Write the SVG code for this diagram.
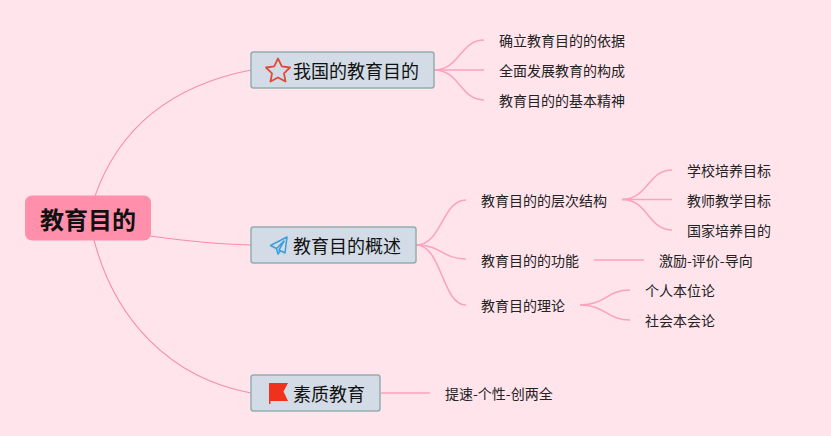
<svg xmlns="http://www.w3.org/2000/svg" width="831" height="436" viewBox="0 0 831 436">
<style>
text{font-family:"Noto Sans CJK SC","Liberation Sans",sans-serif;fill:#111;dominant-baseline:central}
.leaf{font-size:14px;fill:#222}
.main{font-size:18px}
.box{fill:#d3dce6;stroke:#93aeae;stroke-width:1.5}
.c{fill:none;stroke:#fba3bc;stroke-width:1.5}
.r{fill:none;stroke:#f78dab;stroke-width:1.1}
</style>
<rect width="831" height="436" fill="#ffe4ec"/>
<g id="connectors">
<path class="r" d="M95 196C120 125 175 85 251 70"/>
<path class="r" d="M150 236C185 241 215 244 251 245"/>
<path class="r" d="M94 240C115 320 170 378 251 393"/>
<path class="c" d="M434 70C460 70 460 40 484 40"/>
<path class="c" d="M434 70H484"/>
<path class="c" d="M434 70C460 70 460 100 484 100"/>
<path class="c" d="M416 245C442 245 442 200 466 200"/>
<path class="c" d="M416 245C442 245 442 259 466 259"/>
<path class="c" d="M416 245C442 245 442 305 466 305"/>
<path class="c" d="M622 199.500C648 199.500 648 170 672 170"/>
<path class="c" d="M622 199.500H672"/>
<path class="c" d="M622 199.500C648 199.500 648 230 672 230"/>
<path class="c" d="M594 260H644"/>
<path class="c" d="M580 305C606 305 606 290 630 290"/>
<path class="c" d="M580 305C606 305 606 320 630 320"/>
<path class="c" d="M381 393H430"/>
</g>
<g id="root">
<rect x="25" y="195.500" width="126" height="45" rx="7" fill="#ff8fab"/>
<text x="40" y="218" font-size="24" font-weight="700">教育目的</text>
</g>
<g id="n1">
<rect class="box" x="251" y="52" width="183" height="36" rx="2.500"/>
<path d="M278 58.500L281.800 66.300L290 67.500L284 73.300L285.500 81.500L278 77.500L270.500 81.500L272 73.300L266 67.500L274.200 66.300Z" fill="none" stroke="#e04b35" stroke-width="1.800" stroke-linejoin="round"/>
<text class="main" x="293" y="69.500">我国的教育目的</text>
</g>
<g id="n2">
<rect class="box" x="251" y="227" width="165" height="36" rx="2.500"/>
<path d="M287 237L270.500 245.500L276.500 248.500L284 241L279 250L285 253ZM276.500 248.500L278 254L280.500 250.500" fill="none" stroke="#3f9fdc" stroke-width="1.600" stroke-linejoin="round"/>
<text class="main" x="293" y="244.500">教育目的概述</text>
</g>
<g id="n3">
<rect class="box" x="251" y="375" width="129" height="36" rx="2.500"/>
<path d="M269 383H288L283.500 391.500L288 401H270.500V404H269Z" fill="#f0311c"/>
<text class="main" x="293" y="392.500">素质教育</text>
</g>
<g id="l1"><text class="leaf" x="499" y="40">确立教育目的的依据</text></g>
<g id="l2"><text class="leaf" x="499" y="70">全面发展教育的构成</text></g>
<g id="l3"><text class="leaf" x="499" y="100">教育目的的基本精神</text></g>
<g id="l4"><text class="leaf" x="481" y="200">教育目的的层次结构</text></g>
<g id="l5"><text class="leaf" x="481" y="260">教育目的的功能</text></g>
<g id="l6"><text class="leaf" x="481" y="305">教育目的理论</text></g>
<g id="l7"><text class="leaf" x="687" y="170">学校培养目标</text></g>
<g id="l8"><text class="leaf" x="687" y="200">教师教学目标</text></g>
<g id="l9"><text class="leaf" x="687" y="230">国家培养目的</text></g>
<g id="l10"><text class="leaf" x="659" y="260">激励-评价-导向</text></g>
<g id="l11"><text class="leaf" x="645" y="290">个人本位论</text></g>
<g id="l12"><text class="leaf" x="645" y="320">社会本会论</text></g>
<g id="l13"><text class="leaf" x="445" y="393">提速-个性-创两全</text></g>
</svg>
